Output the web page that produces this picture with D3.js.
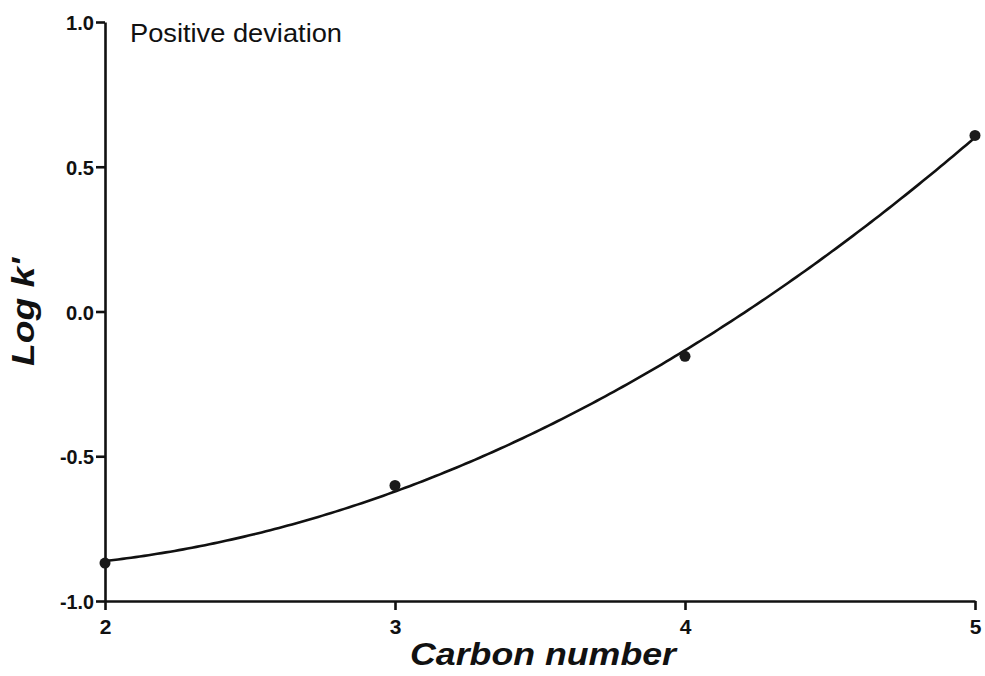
<!DOCTYPE html>
<html>
<head>
<meta charset="utf-8">
<script src="https://cdn.jsdelivr.net/npm/d3@7"></script>
<style>
  html, body { margin: 0; padding: 0; background: #fff; }
  svg { display: block; }
  text { font-family: "Liberation Sans", Arial, sans-serif; fill: #111; }
</style>
</head>
<body>
<svg id="chart" width="985" height="676"></svg>
<script>
// Carbon number vs. log k'
const carbonNumbers = [2, 3, 4, 5];
const logK = [-0.869, -0.601, -0.155, 0.608];
const xTicks = [2, 3, 4, 5];
const yTicks = [-1.0, -0.5, 0.0, 0.5, 1.0];

const width = 985, height = 676;
const margin = { left: 105, right: 10, top: 22, bottom: 75 };

const svg = d3.select("#chart");

const x = d3.scaleLinear().domain([2, 5]).range([margin.left, width - margin.right]);
const y = d3.scaleLinear().domain([-1, 1]).range([height - margin.bottom, margin.top]);

// Second-order polynomial least-squares fit of the measured points
function quadFit(xs, ys) {
  const n = xs.length;
  let s = [0, 0, 0, 0, 0], t = [0, 0, 0];
  for (let i = 0; i < n; i++) {
    let p = 1;
    for (let k = 0; k < 5; k++) { s[k] += p; if (k < 3) t[k] += p * ys[i]; p *= xs[i]; }
  }
  const A = [[s[0], s[1], s[2], t[0]], [s[1], s[2], s[3], t[1]], [s[2], s[3], s[4], t[2]]];
  for (let i = 0; i < 3; i++) {
    for (let j = i + 1; j < 3; j++) {
      const f = A[j][i] / A[i][i];
      for (let k = i; k < 4; k++) A[j][k] -= f * A[i][k];
    }
  }
  const c = [0, 0, 0];
  for (let i = 2; i >= 0; i--) {
    let v = A[i][3];
    for (let k = i + 1; k < 3; k++) v -= A[i][k] * c[k];
    c[i] = v / A[i][i];
  }
  return xv => c[0] + c[1] * xv + c[2] * xv * xv;
}
const fit = quadFit(carbonNumbers, logK);
const curveXs = d3.range(0, 201).map(i => 2 + 3 * i / 200);

// Tick labels use a plain hyphen for negatives
const fmtY = d => (d < 0 ? "-" : "") + Math.abs(d).toFixed(1);

// Axes
const xAxis = d3.axisBottom(x).tickValues(xTicks).tickFormat(d3.format("d")).tickSize(9).tickSizeOuter(0);
const yAxis = d3.axisLeft(y).tickValues(yTicks).tickFormat(fmtY).tickSize(9).tickSizeOuter(0);

const gx = svg.append("g").attr("transform", `translate(0,${y(-1)})`).call(xAxis);
const gy = svg.append("g").attr("transform", `translate(${x(2)},0)`).call(yAxis);

[gx, gy].forEach(g => {
  g.attr("font-size", 21).attr("font-weight", "bold").attr("font-family", "Liberation Sans, Arial, sans-serif");
  g.select(".domain").attr("stroke", "#111").attr("stroke-width", 2.6);
  g.selectAll(".tick line").attr("stroke", "#111").attr("stroke-width", 2.6);
  g.selectAll(".tick text").attr("fill", "#111");
});
gx.selectAll(".tick text").attr("y", 33).attr("dy", 0);
gy.selectAll(".tick text").attr("x", -11).attr("dy", "0.36em")
  .attr("textLength", d => d < 0 ? 34 : 28).attr("lengthAdjust", "spacingAndGlyphs");

// Fitted curve
svg.append("path")
  .datum(curveXs)
  .attr("fill", "none")
  .attr("stroke", "#111")
  .attr("stroke-width", 2.6)
  .attr("d", d3.line().x(d => x(d)).y(d => y(fit(d))));

// Data points
svg.selectAll("circle.pt")
  .data(carbonNumbers.map((c, i) => ({ c, v: logK[i] })))
  .join("circle")
  .attr("class", "pt")
  .attr("cx", d => x(d.c))
  .attr("cy", d => y(d.v))
  .attr("r", 5.5)
  .attr("fill", "#1a1a1a");

// Axis titles
svg.append("text")
  .attr("x", 543)
  .attr("y", 665)
  .attr("text-anchor", "middle")
  .attr("textLength", 266)
  .attr("lengthAdjust", "spacingAndGlyphs")
  .style("font-size", "31px").style("font-weight", "bold").style("font-style", "italic")
  .text("Carbon number");

svg.append("text")
  .attr("transform", `translate(34,312) rotate(-90)`)
  .attr("text-anchor", "middle")
  .attr("textLength", 108)
  .attr("lengthAdjust", "spacingAndGlyphs")
  .style("font-size", "32px").style("font-weight", "bold").style("font-style", "italic")
  .text("Log k'");

// Panel label
svg.append("text")
  .attr("x", 130)
  .attr("y", 42)
  .attr("textLength", 212)
  .attr("lengthAdjust", "spacingAndGlyphs")
  .style("font-size", "25px")
  .text("Positive deviation");
</script>
</body>
</html>
